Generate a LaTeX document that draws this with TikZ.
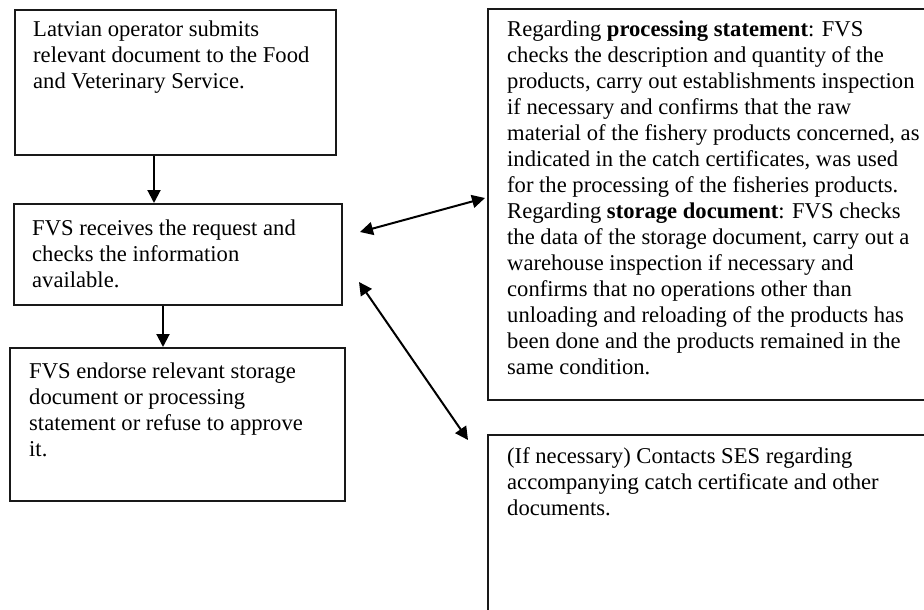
\documentclass[tikz,border=0pt]{standalone}
\usepackage{fontspec}
\setmainfont{Liberation Serif}
\usetikzlibrary{arrows.meta}
\tikzset{
  box/.style={draw=black!90, line width=2pt, anchor=north west, inner sep=0pt, fill=none},
  txt/.style={anchor=base west, inner sep=0pt, font=\fontsize{22.6}{26}\selectfont},
  arr/.style={line width=2pt, -{Triangle[length=13pt,width=13pt]}},
  darr/.style={line width=2pt, {Triangle[length=13pt,width=13pt]}-{Triangle[length=13pt,width=13pt]}}
}
\begin{document}
\begin{tikzpicture}[x=1pt,y=-1pt]
\useasboundingbox (0,0) rectangle (924,610);
\clip (0,0) rectangle (924,610);
% boxes
\node[box, minimum width=321pt, minimum height=145pt] (b1) at (14,9) {};
\node[box, minimum width=328pt, minimum height=101pt] (b2) at (13,203) {};
\node[box, minimum width=335pt, minimum height=153pt] (b3) at (9,347) {};
\node[box, minimum width=460pt, minimum height=391pt] (b4) at (487,8) {};
\node[box, minimum width=460pt, minimum height=200pt] (b5) at (487,434) {};
% texts
\node[txt] (t1) at (33,37) {\parbox[t]{320pt}{Latvian operator submits\\relevant document to the Food\\and Veterinary Service.}};
\node[txt] (t2) at (32,235) {\parbox[t]{320pt}{FVS receives the request and\\checks the information\\available.}};
\node[txt] (t3) at (29,378) {\parbox[t]{320pt}{FVS endorse relevant storage\\document or processing\\statement or refuse to approve\\it.}};
\node[txt] (t4) at (507,37) {\parbox[t]{430pt}{Regarding \textbf{processing statement}: FVS\\checks the description and quantity of the\\products, carry out establishments inspection\\if necessary and confirms that the raw\\material of the fishery products concerned, as\\indicated in the catch certificates, was used\\for the processing of the fisheries products.\\Regarding \textbf{storage document}: FVS checks\\the data of the storage document, carry out a\\warehouse inspection if necessary and\\confirms that no operations other than\\unloading and reloading of the products has\\been done and the products remained in the\\same condition.}};
\node[txt] (t5) at (507,463) {\parbox[t]{430pt}{(If necessary) Contacts SES regarding\\accompanying catch certificate and other\\documents.}};
% connectors
\draw[arr] ([xshift=140pt]b1.south west) -- ([xshift=140pt]b1.south west |- b2.north);
\draw[arr] ([xshift=150pt]b2.south west) -- ([xshift=150pt]b2.south west |- b3.north);
\draw[darr] ([shift={(17pt,-29pt)}]b2.north east) -- ([shift={(-2pt,-190pt)}]b4.north west);
\draw[darr] ([shift={(16pt,-79pt)}]b2.north east) -- ([shift={(-19pt,-6pt)}]b5.north west);
\end{tikzpicture}
\end{document}
